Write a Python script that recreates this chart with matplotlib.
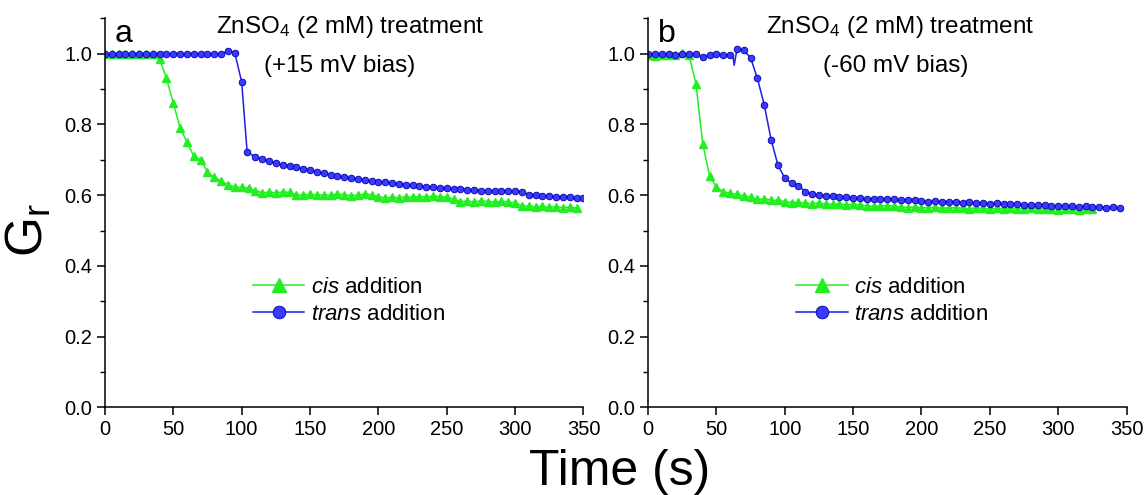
import matplotlib
matplotlib.use("Agg")
import matplotlib.pyplot as plt
from matplotlib.ticker import MultipleLocator

plt.rcParams["font.family"] = ["Liberation Sans", "DejaVu Sans"]
plt.rcParams["mathtext.fontset"] = "custom"
plt.rcParams["mathtext.rm"] = "Liberation Sans"
plt.rcParams["mathtext.it"] = "Liberation Sans:italic"

# ---- panel a : +15 mV bias ----
a_cis_t = [0, 5, 10, 15, 20, 25, 30, 35, 40, 45, 50, 55, 60, 65, 70, 75, 80, 85, 90, 95,
           100, 105, 110, 115, 120, 125, 130, 135, 140, 145, 150, 155, 160, 165, 170, 175,
           180, 185, 190, 195, 200, 205, 210, 215, 220, 225, 230, 235, 240, 245, 250, 255,
           260, 265, 270, 275, 280, 285, 290, 295, 300, 305, 310, 315, 320, 325, 330, 335,
           340, 345]
a_cis_g = [1.000, 0.998, 1.000, 0.999, 1.000, 0.999, 1.000, 0.998, 0.985, 0.930, 0.860,
           0.790, 0.750, 0.710, 0.700, 0.665, 0.650, 0.640, 0.630, 0.622, 0.622, 0.620,
           0.613, 0.607, 0.608, 0.607, 0.609, 0.608, 0.601, 0.600, 0.602, 0.600, 0.601,
           0.600, 0.603, 0.601, 0.599, 0.600, 0.603, 0.601, 0.596, 0.592, 0.594, 0.593,
           0.595, 0.594, 0.596, 0.595, 0.597, 0.596, 0.594, 0.588, 0.582, 0.583, 0.581,
           0.584, 0.582, 0.580, 0.583, 0.581, 0.578, 0.570, 0.569, 0.567, 0.568, 0.566,
           0.567, 0.565, 0.566, 0.564]

a_trans_t = [0, 5, 10, 15, 20, 25, 30, 35, 40, 45, 50, 55, 60, 65, 70, 75, 80, 85, 90, 95,
             100, 104, 110, 115, 120, 125, 130, 135, 140, 145, 150, 155, 160, 165, 170,
             175, 180, 185, 190, 195, 200, 205, 210, 215, 220, 225, 230, 235, 240, 245,
             250, 255, 260, 265, 270, 275, 280, 285, 290, 295, 300, 305, 310, 315, 320,
             325, 330, 335, 340, 345, 350]
a_trans_g = [1.000, 0.998, 0.999, 0.998, 1.000, 0.999, 0.998, 1.000, 0.999, 0.998, 1.000,
             0.999, 0.998, 1.000, 0.999, 0.998, 1.000, 0.999, 1.008, 1.002, 0.920, 0.722,
             0.708, 0.703, 0.697, 0.690, 0.686, 0.683, 0.679, 0.675, 0.671, 0.666, 0.662,
             0.658, 0.654, 0.651, 0.648, 0.645, 0.643, 0.640, 0.638, 0.636, 0.634, 0.632,
             0.630, 0.628, 0.626, 0.624, 0.622, 0.620, 0.619, 0.618, 0.617, 0.616, 0.614,
             0.613, 0.613, 0.612, 0.612, 0.611, 0.611, 0.610, 0.601, 0.600, 0.599, 0.597,
             0.596, 0.595, 0.594, 0.593, 0.592]

# ---- panel b : -60 mV bias ----
b_cis_t = [0, 5, 10, 15, 20, 25, 30, 35, 40, 45, 50, 55, 60, 65, 70, 75, 80, 85, 90, 95,
           100, 105, 110, 115, 120, 125, 130, 135, 140, 145, 150, 155, 160, 165, 170, 175,
           180, 185, 190, 195, 200, 205, 210, 215, 220, 225, 230, 235, 240, 245, 250, 255,
           260, 265, 270, 275, 280, 285, 290, 295, 300, 305, 310, 315, 320, 325]
b_cis_g = [0.995, 0.994, 0.995, 0.996, 0.997, 1.001, 0.996, 0.915, 0.745, 0.655, 0.622,
           0.610, 0.605, 0.602, 0.598, 0.594, 0.588, 0.590, 0.586, 0.585, 0.582, 0.579,
           0.580, 0.577, 0.576, 0.578, 0.575, 0.574, 0.575, 0.573, 0.574, 0.572, 0.570,
           0.568, 0.569, 0.570, 0.569, 0.566, 0.565, 0.566, 0.564, 0.565, 0.566, 0.563,
           0.564, 0.565, 0.563, 0.562, 0.564, 0.563, 0.561, 0.563, 0.562, 0.564, 0.562,
           0.561, 0.563, 0.562, 0.560, 0.561, 0.559, 0.560, 0.561, 0.559, 0.560, 0.560]

b_trans_t = [0, 5, 10, 15, 20, 25, 30, 35, 40, 45, 50, 55, 60, 62, 63, 65, 70, 75, 80, 85,
             90, 95, 100, 105, 110, 115, 120, 125, 130, 135, 140, 145, 150, 155, 160, 165,
             170, 175, 180, 185, 190, 195, 200, 205, 210, 215, 220, 225, 230, 235, 240,
             245, 250, 255, 260, 265, 270, 275, 280, 285, 290, 295, 300, 305, 310, 315,
             320, 325, 330, 335, 340, 345]
b_trans_g = [0.998, 0.999, 0.998, 0.999, 0.997, 0.999, 1.000, 0.999, 0.990, 0.997, 0.999,
             0.997, 0.996, 0.996, 0.967, 1.012, 1.010, 0.988, 0.930, 0.855, 0.757, 0.685,
             0.648, 0.634, 0.627, 0.610, 0.603, 0.600, 0.599, 0.597, 0.596, 0.594, 0.593,
             0.591, 0.590, 0.589, 0.590, 0.588, 0.589, 0.586, 0.587, 0.585, 0.584, 0.582,
             0.583, 0.581, 0.580, 0.581, 0.579, 0.580, 0.578, 0.577, 0.576, 0.577, 0.575,
             0.574, 0.575, 0.573, 0.572, 0.571, 0.572, 0.570, 0.569, 0.570, 0.568, 0.567,
             0.568, 0.566, 0.566, 0.565, 0.566, 0.564]
b_trans_skip = [13, 14]  # glitch points drawn without a marker

panels = [
    ("a", "(+15 mV bias)", a_cis_t, a_cis_g, a_trans_t, a_trans_g, [], 0.0915, 0.513, 0.49),
    ("b", "(-60 mV bias)", b_cis_t, b_cis_g, b_trans_t, b_trans_g, b_trans_skip, 0.565, 0.527, 0.517),
]

GREEN = "#22ee22"
BLUE = "#1e1ee0"

fig = plt.figure(figsize=(11.47, 4.95), dpi=100)

for letter, bias, ct, cg, tt, tg, skip, left, tx1, tx2 in panels:
    ax = fig.add_axes([left, 0.177, 0.4172, 0.786])
    ax.plot(ct, cg, color=GREEN, lw=1.1, marker="^", ms=5.5, mec=GREEN, mfc=GREEN,
            label=r"$\mathit{cis}$ addition")
    marks = [i for i in range(len(tt)) if i not in skip]
    ax.plot(tt, tg, color=BLUE, lw=1.1, marker="o", ms=4.8, mec="#0000a8", mfc="#3a3aff",
            mew=0.6, markevery=marks, label=r"$\mathit{trans}$ addition")

    ax.set_xlim(0, 350)
    ax.set_ylim(0, 1.1)
    ax.xaxis.set_major_locator(MultipleLocator(50))
    ax.yaxis.set_minor_locator(MultipleLocator(0.1))
    ax.set_yticks([0.0, 0.2, 0.4, 0.6, 0.8, 1.0])
    ax.set_yticklabels(["0.0", "0.2", "0.4", "0.6", "0.8", "1.0"])
    ax.spines["top"].set_visible(False)
    ax.spines["right"].set_visible(False)
    for s in ("left", "bottom"):
        ax.spines[s].set_linewidth(1.1)
    ax.tick_params(which="major", length=6, width=1.1, labelsize=14.5, pad=3)
    ax.tick_params(which="minor", length=3.5, width=1.0)

    ax.text(0.021, 0.939, letter, transform=ax.transAxes, fontsize=23, va="baseline")
    ax.text(tx1, 0.962, r"ZnSO$_4$ (2 mM) treatment", transform=ax.transAxes,
            fontsize=17.5, ha="center", va="baseline")
    ax.text(tx2, 0.862, bias, transform=ax.transAxes, fontsize=17.5, ha="center",
            va="baseline")

    ax.legend(loc="upper left", bbox_to_anchor=(0.31, 0.335), frameon=False,
              fontsize=16, handlelength=2.3, handletextpad=0.3, labelspacing=0.25,
              borderpad=0, borderaxespad=0, markerscale=1.9)

fig.text(0.025, 0.535, r"G$_\mathregular{r}$", rotation=90, fontsize=37, ha="center",
         va="center")
fig.text(0.54, 0.02, "Time (s)", fontsize=36, ha="center", va="baseline")

fig.savefig("out.png", dpi=100)
